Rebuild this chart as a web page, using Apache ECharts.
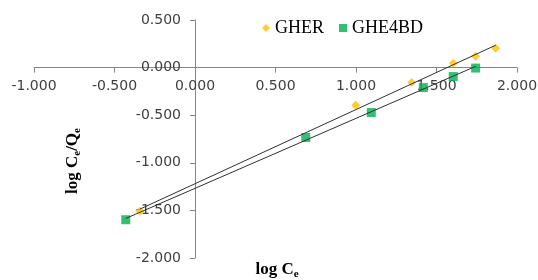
<!DOCTYPE html>
<html>
<head>
<meta charset="utf-8">
<script src="https://cdn.jsdelivr.net/npm/echarts@6/dist/echarts.min.js"></script>
<style>
  html, body { margin: 0; padding: 0; background: #fff; }
  #chart { width: 538px; height: 280px; }
</style>
</head>
<body>
<div id="chart"></div>
<script>
// log Ce vs log Ce/Qe
const gherX = [-0.342, 0.998, 1.346, 1.604, 1.743, 1.868];
const gherY = [-1.509, -0.395, -0.157, 0.045, 0.118, 0.202];
const ghe4bdX = [-0.430, 0.688, 1.095, 1.418, 1.604, 1.743];
const ghe4bdY = [-1.598, -0.734, -0.472, -0.210, -0.094, -0.005];

const seriesNames = ["GHER", "GHE4BD"];

const tickFont = "DejaVu Sans";
const serif = "Liberation Serif";

// least squares trendline between the first and last x, like Excel's linear trendline
function trend(xs, ys) {
  const n = xs.length;
  const mx = xs.reduce((a, b) => a + b, 0) / n;
  const my = ys.reduce((a, b) => a + b, 0) / n;
  let sxy = 0, sxx = 0;
  for (let i = 0; i < n; i++) {
    sxy += (xs[i] - mx) * (ys[i] - my);
    sxx += (xs[i] - mx) * (xs[i] - mx);
  }
  const b = sxy / sxx;
  const a = my - b * mx;
  const x0 = Math.min(...xs), x1 = Math.max(...xs);
  return [[x0, a + b * x0], [x1, a + b * x1]];
}

const pairs = (xs, ys) => xs.map((x, i) => [x, ys[i]]);

const W = 538, H = 280;
const grid = { left: 34, right: 21, top: 20, bottom: 22 };
const xMin = -1, xMax = 2, yMin = -2, yMax = 0.5;

// axes cross at zero: shift them there with offset
const gw = W - grid.left - grid.right;
const gh = H - grid.top - grid.bottom;
const xOffset = -(gh * (0 - yMin) / (yMax - yMin));
const yOffset = -(gw * (0 - xMin) / (xMax - xMin));

const chart = echarts.init(document.getElementById("chart"));

const axisCommon = {
  type: "value",
  interval: 0.5,
  splitLine: { show: false },
  axisLine: { onZero: false, lineStyle: { color: "#868686", width: 1 } },
  axisTick: { show: true, length: 5, lineStyle: { color: "#868686" } },
  axisLabel: {
    color: "#404040",
    fontFamily: tickFont,
    fontSize: 14,
    formatter: (v) => v.toFixed(3),
  },
};

const sub = { fontSize: 11, fontWeight: "bold", fontFamily: serif, lineHeight: 12, verticalAlign: "bottom", fill: "#000" };
const main = { fontSize: 17, fontWeight: "bold", fontFamily: serif, lineHeight: 20, verticalAlign: "middle", fill: "#000" };

chart.setOption({
  animation: false,
  grid: Object.assign({ outerBoundsMode: "none" }, grid),
  legend: {
    data: seriesNames,
    left: 257,
    top: 14,
    itemWidth: 8,
    itemHeight: 8,
    itemGap: 15,
    textStyle: { fontFamily: serif, fontSize: 18, color: "#000" },
  },
  xAxis: Object.assign({}, axisCommon, {
    min: xMin,
    max: xMax,
    position: "bottom",
    offset: xOffset,
    axisLabel: Object.assign({}, axisCommon.axisLabel, { margin: 12 }),
  }),
  yAxis: Object.assign({}, axisCommon, {
    min: yMin,
    max: yMax,
    position: "left",
    offset: yOffset,
    axisLabel: Object.assign({}, axisCommon.axisLabel, { margin: 14 }),
  }),
  graphic: [
    {
      type: "text",
      x: 277,
      y: 270,
      style: {
        text: "{m|log C}{s|e}",
        align: "center",
        verticalAlign: "middle",
        rich: { m: main, s: sub },
      },
    },
    {
      type: "text",
      x: 73,
      y: 161,
      rotation: Math.PI / 2,
      style: {
        text: "{m|log C}{s|e}{m|/Q}{s|e}",
        align: "center",
        verticalAlign: "middle",
        rich: { m: main, s: sub },
      },
    },
  ],
  series: [
    {
      name: "GHER",
      type: "scatter",
      symbol: "diamond",
      symbolSize: 9,
      itemStyle: { color: "#FFC000" },
      data: pairs(gherX, gherY),
      z: 2,
    },
    {
      name: "GHE4BD",
      type: "scatter",
      symbol: "rect",
      symbolSize: 9,
      itemStyle: { color: "#00B050" },
      data: pairs(ghe4bdX, ghe4bdY),
      z: 2,
    },
    {
      name: "GHER trend",
      type: "line",
      showSymbol: false,
      silent: true,
      lineStyle: { color: "#303030", width: 1 },
      data: trend(gherX, gherY),
      z: 3,
    },
    {
      name: "GHE4BD trend",
      type: "line",
      showSymbol: false,
      silent: true,
      lineStyle: { color: "#303030", width: 1 },
      data: trend(ghe4bdX, ghe4bdY),
      z: 3,
    },
  ],
});
</script>
</body>
</html>
